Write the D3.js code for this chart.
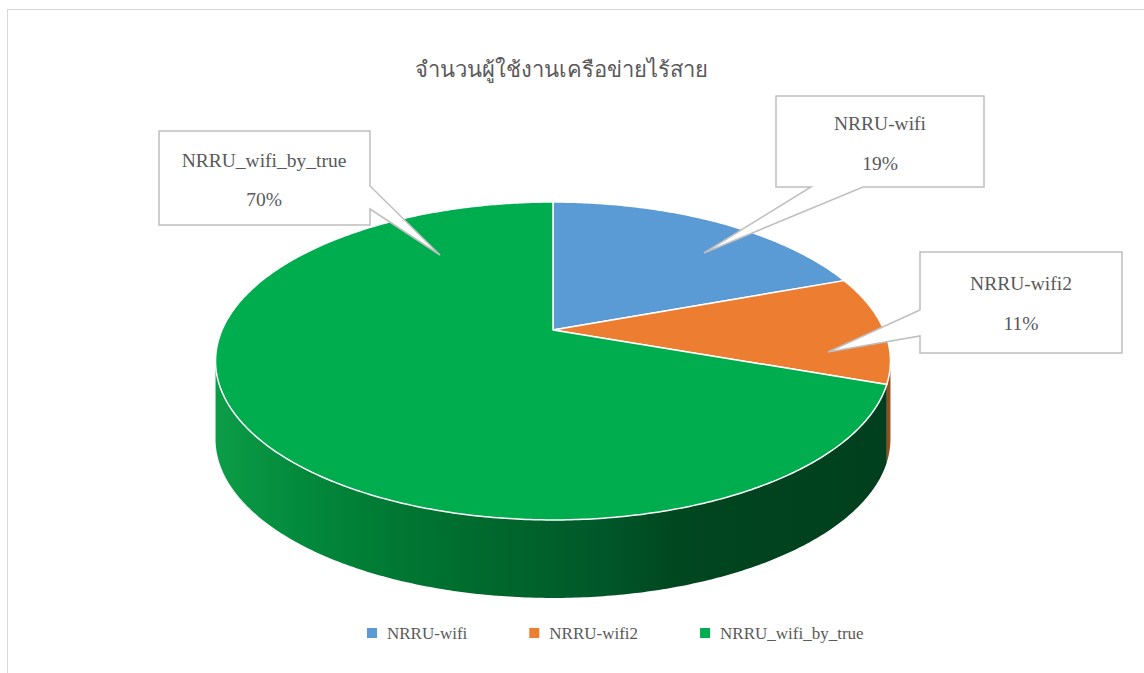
<!doctype html>
<html lang="th">
<head>
  <meta charset="utf-8">
  <title>จำนวนผู้ใช้งานเครือข่ายไร้สาย</title>
  <script src="https://cdn.jsdelivr.net/npm/d3@7"></script>
  <style>
    body { margin: 0; background: #fff; }
    text { font-family: "Liberation Serif", "Times New Roman", "DejaVu Serif", serif; fill: #595959; }
  </style>
</head>
<body>
<svg id="chart"></svg>
<script>
  // data
  var categories = ["NRRU-wifi", "NRRU-wifi2", "NRRU_wifi_by_true"];
  var values = [19.4, 11.0, 69.6];
  var colors = ["#5B9BD5", "#ED7D31", "#00AD4E"];
  var sideColors = ["#3d6f9e", "#9a4d1c", "#00582a"];
  var title = "จำนวนผู้ใช้งานเครือข่ายไร้สาย";

  var WIDTH = 1144, HEIGHT = 673;
  var svg = d3.select("#chart").attr("width", WIDTH).attr("height", HEIGHT);

  // chart frame
  svg.append("rect")
    .attr("x", 7.5).attr("y", 9.5)
    .attr("width", 1150).attr("height", 680)
    .attr("fill", "#fff").attr("stroke", "#d9d9d9").attr("stroke-width", 1);

  svg.append("text")
    .attr("x", 561).attr("y", 77)
    .attr("text-anchor", "middle")
    .style("font-size", "22px")
    .text(title);

  // perspective camera for the 3d pie
  var cam = { x0: 553, y0: 330, F: 1506, D: 4.55, s: 0.462, c: 0.887 };
  var DEPTH = 78;

  function proj(a, r) {
    var X = r * Math.sin(a), Z = -r * Math.cos(a);
    var z = cam.D - Z * cam.c;
    return [cam.x0 + cam.F * X / z, cam.y0 + cam.F * Z * cam.s / z];
  }

  function arcPts(a0, a1) {
    var n = Math.max(2, Math.ceil((a1 - a0) / 0.01));
    var pts = [];
    for (var i = 0; i <= n; i++) pts.push(proj(a0 + (a1 - a0) * i / n, 1));
    return pts;
  }

  // silhouette (left / right extreme of the top face)
  var visFrom = 0, visTo = 0, maxX = -1e9, minX = 1e9;
  for (var t = 0; t < Math.PI * 2; t += 0.001) {
    var p = proj(t, 1);
    if (p[0] > maxX) { maxX = p[0]; visFrom = t; }
    if (p[0] < minX) { minX = p[0]; visTo = t; }
  }

  var pie = d3.pie().sort(null).value(function(d){ return d; });
  var arcs = pie(values);

  // side gradient
  var shade = d3.scaleLinear()
    .domain([218, 300, 400, 500, 600, 680, 890])
    .range(["#0c9c47", "#028a3c", "#007733", "#00672c", "#00582a", "#00461f", "#003f1d"]);
  var defs = svg.append("defs");
  var grad = defs.append("linearGradient")
    .attr("id", "sideGreen")
    .attr("gradientUnits", "userSpaceOnUse")
    .attr("x1", minX).attr("x2", maxX).attr("y1", 0).attr("y2", 0);
  shade.domain().forEach(function(x) {
    grad.append("stop")
      .attr("offset", (x - minX) / (maxX - minX))
      .attr("stop-color", shade(x));
  });

  var line = d3.line();

  // sides
  arcs.forEach(function(d, i) {
    var s = Math.max(d.startAngle, visFrom), e = Math.min(d.endAngle, visTo);
    if (e <= s) return;
    var top = arcPts(s, e);
    var bottom = top.map(function(p){ return [p[0], p[1] + DEPTH]; }).reverse();
    svg.append("path")
      .attr("d", line(top.concat(bottom)) + "Z")
      .attr("fill", i === 2 ? "url(#sideGreen)" : sideColors[i]);
  });

  // top face
  var apex = proj(0, 0);
  arcs.forEach(function(d, i) {
    var pts = [apex].concat(arcPts(d.startAngle, d.endAngle));
    svg.append("path")
      .attr("d", line(pts) + "Z")
      .attr("fill", colors[i])
      .attr("stroke", "#fff")
      .attr("stroke-width", 1.5)
      .attr("stroke-linejoin", "round");
  });

  // data callouts
  var pct = d3.format(".0%");
  var total = d3.sum(values);
  var callouts = [
    { box: [776, 96, 984, 187], side: "bottom", base: [811, 863], tip: [704, 253], cx: 880, y1: 130, y2: 170 },
    { box: [920, 252, 1122, 353], side: "left", base: [310, 336], tip: [828, 352], cx: 1021, y1: 290, y2: 330 },
    { box: [159, 131, 370, 225], side: "right", base: [186, 209], tip: [440, 255], cx: 264, y1: 167, y2: 206 }
  ];

  function calloutPath(c) {
    var b = c.box, x0 = b[0], y0 = b[1], x1 = b[2], y1 = b[3], t = c.tip, pts;
    if (c.side === "bottom") {
      pts = [[x0, y0], [x1, y0], [x1, y1], [c.base[1], y1], t, [c.base[0], y1], [x0, y1]];
    } else if (c.side === "left") {
      pts = [[x0, y0], [x1, y0], [x1, y1], [x0, y1], [x0, c.base[1]], t, [x0, c.base[0]]];
    } else {
      pts = [[x0, y0], [x1, y0], [x1, c.base[0]], t, [x1, c.base[1]], [x1, y1], [x0, y1]];
    }
    return line(pts) + "Z";
  }

  callouts.forEach(function(c, i) {
    svg.append("path")
      .attr("d", calloutPath(c))
      .attr("fill", "#fff")
      .attr("stroke", "#bfbfbf")
      .attr("stroke-width", 1.5);
    svg.append("text")
      .attr("x", c.cx).attr("y", c.y1)
      .attr("text-anchor", "middle")
      .style("font-size", "19.5px")
      .text(categories[i]);
    svg.append("text")
      .attr("x", c.cx).attr("y", c.y2)
      .attr("text-anchor", "middle")
      .style("font-size", "19.5px")
      .text(pct(values[i] / total));
  });

  // legend
  var legend = svg.append("g").attr("transform", "translate(367,628)");
  var lx = 0;
  categories.forEach(function(name, i) {
    var g = legend.append("g").attr("transform", "translate(" + lx + ",0)");
    g.append("rect").attr("width", 10).attr("height", 10).attr("fill", colors[i]);
    var tx = g.append("text")
      .attr("x", 20).attr("y", 11)
      .style("font-size", "17px")
      .text(name);
    lx += 20 + tx.node().getComputedTextLength() + 62;
  });
</script>
</body>
</html>
